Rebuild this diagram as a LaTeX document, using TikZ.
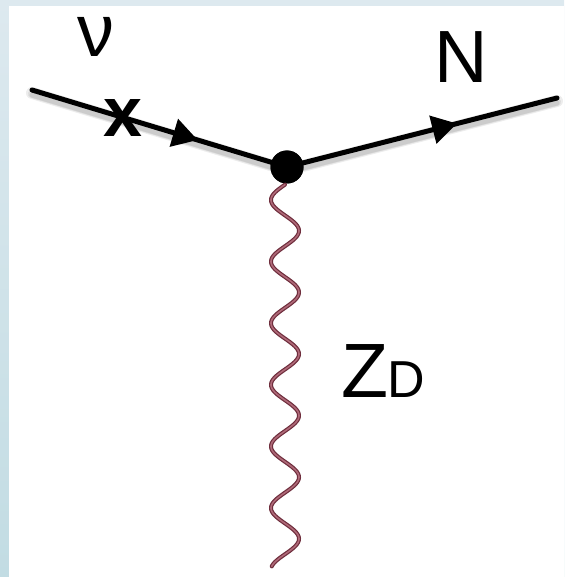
\documentclass[tikz,border=0pt]{standalone}
\usepackage{fontspec}
\setmainfont{Liberation Sans}
\usetikzlibrary{arrows.meta,decorations.markings}
\definecolor{bandtop}{HTML}{DDE9EF}
\definecolor{bandbot}{HTML}{C2DCE3}
\definecolor{waveout}{RGB}{110,45,60}
\definecolor{wavein}{RGB}{175,105,120}
\tikzset{
  fermion/.style={line width=5pt, black, line cap=round,
    postaction={decorate},
    decoration={markings, mark=at position #1 with {\arrow{Triangle[length=25pt,width=28pt]}}}},
  shade line/.style={line width=9pt, black, opacity=0.07, line cap=round},
  lbl/.style={inner sep=0pt, anchor=base},
  vtx/.style={circle, fill=black, minimum size=33pt, inner sep=0pt}
}
\begin{document}
\begin{tikzpicture}[x=1pt,y=-1pt]
\useasboundingbox (0,0) rectangle (564,577);
\shade[top color=bandtop, bottom color=bandbot] (0,0) rectangle (564,577);
\fill[white] (9,6.5) rectangle (564,577);
% nodes
\node[vtx] (v) at (287,167) {};
\coordinate (nuin) at (32,90);
\coordinate (nout) at (557,98);
% shadows
\foreach \d/\w in {3/12,4/8,5/5}{
  \draw[shade line, line width=\w pt] ([yshift=-\d pt]nuin) -- ([yshift=-\d pt]v.center) -- ([yshift=-\d pt]nout);
}
% fermion lines
\draw[fermion=0.65] (nuin) -- (v.center);
\draw[fermion=0.63] (v.center) -- (nout);
\node[vtx] at (v) {};
% wave
\draw[waveout, line width=4pt, line cap=round] plot[domain=0:6.2, samples=400, variable=\t] ({285-14*sin(360*\t)}, {184.6+61.6*\t});
\draw[wavein, line width=1.6pt, line cap=round] plot[domain=0:6.2, samples=400, variable=\t] ({285-14*sin(360*\t)}, {184.6+61.6*\t});
% labels
\node[lbl] (nu) at (96,57) {\fontsize{74}{74}\selectfont ν};
\node[lbl] (xm) at (123,137) {\fontsize{70}{70}\selectfont\bfseries x};
\node[lbl] (N) at (461,83) {\fontsize{74}{74}\selectfont N};
\node[lbl, anchor=base west] (Z) at (341,397) {\fontsize{77}{77}\selectfont Z\kern-1pt\fontsize{52}{52}\selectfont D};
\end{tikzpicture}
\end{document}
